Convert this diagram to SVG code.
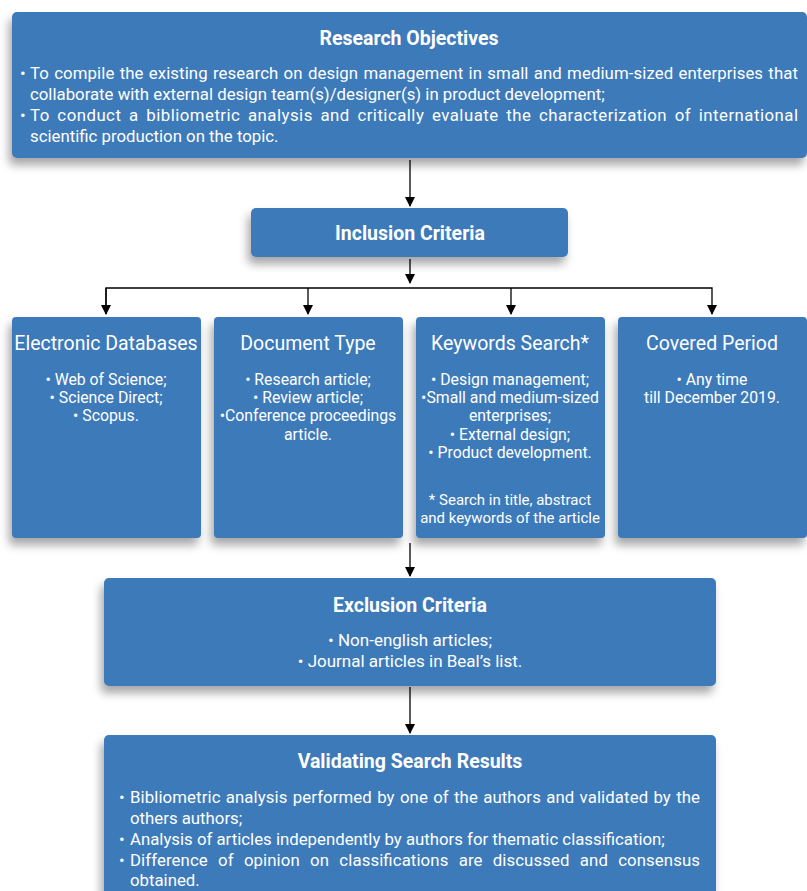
<svg xmlns="http://www.w3.org/2000/svg" width="807" height="891" viewBox="0 0 807 891">
<defs>
<filter id="sh" x="-10%" y="-10%" width="120%" height="140%">
<feDropShadow dx="-3" dy="7" stdDeviation="5" flood-color="#000" flood-opacity="0.35"/>
</filter>
<marker id="ah" viewBox="0 0 10 10" refX="9" refY="5" markerWidth="10" markerHeight="10" markerUnits="userSpaceOnUse" orient="auto">
<path d="M0,0 L10,5 L0,10 z" fill="#000"/>
</marker>
<style>
.box{fill:#3d7aba;filter:url(#sh)}
text{fill:#fff;font-family:Roboto,"Liberation Sans",sans-serif}
.t{font-size:19.5px;font-weight:bold;text-anchor:middle}
.h{font-size:19.5px;text-anchor:middle}
.b{font-size:16.8px}
.c{font-size:15.8px;text-anchor:middle}
.f{font-size:15px;text-anchor:middle}
.e{font-size:17px;text-anchor:middle}
.cn{stroke:#000;stroke-width:1.3;fill:none}
</style>
</defs>
<rect width="807" height="891" fill="#fff"/>
<g id="research-objectives">
<rect class="box" x="12" y="12" width="795" height="146" rx="5"/>
<text class="t" x="409" y="45">Research Objectives</text>
<text class="b" x="20" y="79">•</text>
<text class="b" x="30" y="79" word-spacing="1" textLength="768" lengthAdjust="spacing">To compile the existing research on design management in small and medium-sized enterprises that</text>
<text class="b" x="30" y="100">collaborate with external design team(s)/designer(s) in product development;</text>
<text class="b" x="20" y="121">•</text>
<text class="b" x="30" y="121" word-spacing="3" textLength="768" lengthAdjust="spacing">To conduct a bibliometric analysis and critically evaluate the characterization of international</text>
<text class="b" x="30" y="142">scientific production on the topic.</text>
</g>
<g id="inclusion-criteria">
<rect class="box" x="251" y="208" width="317" height="49" rx="5"/>
<text class="t" x="410" y="240">Inclusion Criteria</text>
</g>
<g id="electronic-databases">
<rect class="box" x="12" y="317" width="189" height="221" rx="4"/>
<text class="h" x="106" y="350">Electronic Databases</text>
<text class="c" x="106" y="385">• Web of Science;</text>
<text class="c" x="106" y="403">• Science Direct;</text>
<text class="c" x="106" y="421">• Scopus.</text>
</g>
<g id="document-type">
<rect class="box" x="214" y="317" width="189" height="221" rx="4"/>
<text class="h" x="308" y="350">Document Type</text>
<text class="c" x="308" y="385">• Research article;</text>
<text class="c" x="308" y="403">• Review article;</text>
<text class="c" x="308" y="421">•Conference proceedings</text>
<text class="c" x="308" y="440">article.</text>
</g>
<g id="keywords-search">
<rect class="box" x="416" y="317" width="189" height="221" rx="4"/>
<text class="h" x="510" y="350">Keywords Search*</text>
<text class="c" x="510" y="385">• Design management;</text>
<text class="c" x="510" y="403">•Small and medium-sized</text>
<text class="c" x="510" y="421">enterprises;</text>
<text class="c" x="510" y="440">• External design;</text>
<text class="c" x="510" y="458">• Product development.</text>
<text class="f" x="510" y="505">* Search in title, abstract</text>
<text class="f" x="510" y="523">and keywords of the article</text>
</g>
<g id="covered-period">
<rect class="box" x="618" y="317" width="189" height="221" rx="4"/>
<text class="h" x="712" y="350">Covered Period</text>
<text class="c" x="712" y="385">• Any time</text>
<text class="c" x="712" y="403">till December 2019.</text>
</g>
<g id="exclusion-criteria">
<rect class="box" x="104" y="578" width="612" height="108" rx="5"/>
<text class="t" x="410" y="612">Exclusion Criteria</text>
<text class="e" x="410" y="646">• Non-english articles;</text>
<text class="e" x="410" y="667">• Journal articles in Beal’s list.</text>
</g>
<g id="validating-search-results">
<rect class="box" x="104" y="735" width="612" height="170" rx="5"/>
<text class="t" x="410" y="768">Validating Search Results</text>
<text class="b" x="119" y="803">•</text>
<text class="b" x="130" y="803" word-spacing="1" textLength="570" lengthAdjust="spacing">Bibliometric analysis performed by one of the authors and validated by the</text>
<text class="b" x="130" y="824">others authors;</text>
<text class="b" x="119" y="845">•</text>
<text class="b" x="130" y="845">Analysis of articles independently by authors for thematic classification;</text>
<text class="b" x="119" y="866">•</text>
<text class="b" x="130" y="866" word-spacing="6" textLength="570" lengthAdjust="spacing">Difference of opinion on classifications are discussed and consensus</text>
<text class="b" x="130" y="886">obtained.</text>
</g>
<g id="connectors">
<line class="cn" x1="410" y1="160" x2="410" y2="206" marker-end="url(#ah)"/>
<line class="cn" x1="410" y1="259" x2="410" y2="283" marker-end="url(#ah)"/>
<polyline class="cn" points="106,314 106,288 712,288 712,314" marker-end="url(#ah)"/>
<line class="cn" x1="106" y1="288" x2="106" y2="314" marker-end="url(#ah)"/>
<line class="cn" x1="308" y1="288" x2="308" y2="314" marker-end="url(#ah)"/>
<line class="cn" x1="511" y1="288" x2="511" y2="314" marker-end="url(#ah)"/>
<line class="cn" x1="410" y1="543" x2="410" y2="576" marker-end="url(#ah)"/>
<line class="cn" x1="410" y1="687" x2="410" y2="733" marker-end="url(#ah)"/>
</g>
</svg>
